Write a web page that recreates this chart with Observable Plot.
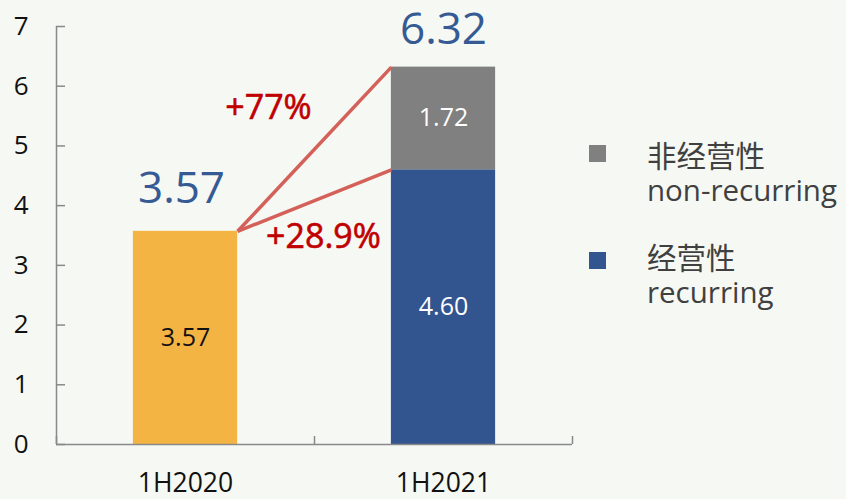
<!DOCTYPE html>
<html><head><meta charset="utf-8">
<script src="https://cdn.jsdelivr.net/npm/d3@7"></script>
<script src="https://cdn.jsdelivr.net/npm/@observablehq/plot@0.6"></script>
<style>
html,body{margin:0;padding:0;background:#f6f8f3;}
#wrap{position:relative;width:846px;height:499px;background:#f6f8f3;overflow:hidden;}
.leg{position:absolute;font-family:"Open Sans","Noto Sans CJK SC",sans-serif;font-size:29.5px;line-height:34px;height:34px;color:#404040;white-space:nowrap;}
.sw{position:absolute;width:17px;height:17px;}
</style></head><body><div id="wrap"></div>
<script>
// ---- data ----
const categories = ["1H2020", "1H2021"];
const recurring = [3.57, 4.60];
const nonRecurring = [0, 1.72];
const totals = [3.57, 6.32];
const growthLabels = ["+77%", "+28.9%"];
const yTicks = [0, 1, 2, 3, 4, 5, 6, 7];
const legendZh = ["非经营性", "经营性"];
const legendEn = ["non-recurring", "recurring"];

// ---- styles ----
const C_PRIOR = "#F4B443", C_REC = "#32558F", C_NON = "#808080";
const C_AXIS = "#898989", C_LINE = "#D4605A", C_RED = "#C00000", C_BIG = "#355A94";
const legendColors = [C_NON, C_REC];
const halfBar = 0.202;
const FONT = "'Open Sans','Noto Sans CJK SC',sans-serif";

const segments = [];
categories.forEach((c, i) => {
  segments.push({i, y1: 0, y2: recurring[i], value: recurring[i],
    fill: i === 0 ? C_PRIOR : C_REC, text: i === 0 ? "#111" : "#fff"});
  if (nonRecurring[i] > 0) segments.push({i, y1: recurring[i], y2: recurring[i] + nonRecurring[i],
    value: nonRecurring[i], fill: C_NON, text: "#fff"});
});
const links = [
  {x1: 0.5 + halfBar, y1: totals[0], x2: 1.5 - halfBar, y2: totals[1], label: growthLabels[0]},
  {x1: 0.5 + halfBar, y1: totals[0], x2: 1.5 - halfBar, y2: recurring[1], label: growthLabels[1]}
];
const mid = l => ({x: (l.x1 + l.x2) / 2, y: (l.y1 + l.y2) / 2, label: l.label});

const chart = Plot.plot({
  width: 846, height: 499,
  marginLeft: 56, marginRight: 274, marginTop: 26, marginBottom: 55,
  style: {background: "transparent", fontFamily: FONT, color: "#111", overflow: "visible"},
  x: {domain: [0, categories.length], axis: null},
  y: {domain: [0, yTicks[yTicks.length - 1]], axis: null},
  color: {type: "identity"},
  marks: [
    Plot.rect(segments, {x1: d => d.i + 0.5 - halfBar, x2: d => d.i + 0.5 + halfBar, y1: "y1", y2: "y2", fill: "fill"}),
    Plot.ruleX([0], {y1: 0, y2: yTicks[yTicks.length - 1], stroke: C_AXIS, strokeWidth: 1.5}),
    Plot.ruleY([0], {x1: 0, x2: categories.length, stroke: C_AXIS, strokeWidth: 1.5}),
    Plot.axisY({ticks: yTicks, tickSize: -9, tickPadding: 37, stroke: C_AXIS, strokeWidth: 1.5, fontSize: 26, fill: "#111", tickFormat: d => String(d)}),
    Plot.axisX({ticks: [0, 1, 2], tickSize: -8, stroke: C_AXIS, strokeWidth: 1.5, tickFormat: () => ""}),
    Plot.text(categories, {x: (d, i) => i + 0.5, y: () => 0, text: d => d, dy: 39, lineAnchor: "middle", fontSize: 26.5, fill: "#111"}),
    Plot.text(segments, {x: d => d.i + 0.5, y: d => (d.y1 + d.y2) / 2, text: d => d.value.toFixed(2), fill: "text", fontSize: 25, lineAnchor: "middle"}),
    Plot.link(links, {x1: "x1", y1: "y1", x2: "x2", y2: "y2", stroke: C_LINE, strokeWidth: 3.5}),
    Plot.text([totals[0]], {x: 0.5, y: d => d, text: d => d.toFixed(2), dy: -42, dx: -4, fontSize: 44, fill: C_BIG, lineAnchor: "middle"}),
    Plot.text([totals[1]], {x: 1.5, y: d => d, text: d => d.toFixed(2), dy: -37, fontSize: 44, fill: C_BIG, lineAnchor: "middle"}),
    Plot.text([mid(links[0])], {x: "x", y: "y", text: "label", dx: -46, dy: -41, fontSize: 34, fill: C_RED, stroke: C_RED, strokeWidth: 0.6, lineAnchor: "middle"}),
    Plot.text([mid(links[1])], {x: "x", y: "y", text: "label", dx: 9, dy: 37, fontSize: 34, fill: C_RED, stroke: C_RED, strokeWidth: 0.6, lineAnchor: "middle"})
  ]
});
const wrap = document.getElementById("wrap");
wrap.appendChild(chart);

// legend (right side)
const tops = [139, 241];
legendZh.forEach((zh, k) => {
  const sw = document.createElement("div");
  sw.className = "sw";
  sw.style.left = "589px";
  sw.style.top = (tops[k] + (k === 0 ? 6 : 11)) + "px";
  sw.style.background = legendColors[k];
  wrap.appendChild(sw);
  [zh, legendEn[k]].forEach((line, j) => {
    const t = document.createElement("div");
    t.className = "leg";
    t.style.left = "647px";
    t.style.top = (tops[k] + j * 34) + "px";
    t.textContent = line;
    wrap.appendChild(t);
  });
});
</script></body></html>
